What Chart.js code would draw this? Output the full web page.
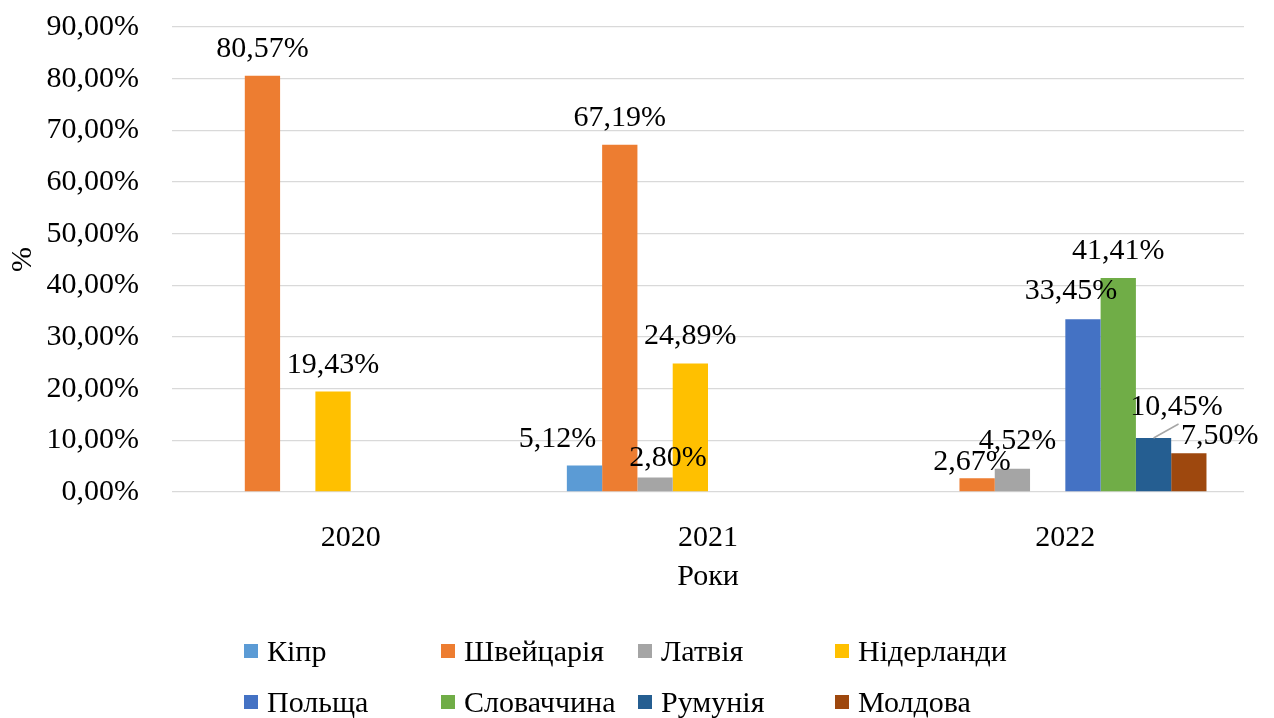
<!DOCTYPE html>
<html lang="uk">
  <head>
    <meta charset="utf-8">
    <title>Роки</title>
    <style>
      body { margin: 0; background: #fff; }
      #wrap { position: relative; width: 1274px; height: 718px; }
      #legend {
        position: absolute; left: 244px; top: 634px;
        display: grid; grid-template-columns: repeat(4, 197px);
        row-gap: 17px;
        font-family: "Liberation Serif", "Times New Roman", serif;
        font-size: 30px; color: #000;
      }
      .item { display: flex; align-items: center; height: 34px; white-space: nowrap; }
      .box { width: 14px; height: 14px; margin-right: 9px; flex: none; }
    </style>
  </head>

  <body>
    <div id="wrap">
      <canvas id="chart"></canvas>
      <div id="legend"></div>
    </div>

    <script src="https://cdn.jsdelivr.net/npm/chart.js@4/dist/chart.umd.min.js"></script>

    <script>
      // дані з діаграми (у відсотках)
      const years = ['2020', '2021', '2022'];
      const countries = ['Кіпр', 'Швейцарія', 'Латвія', 'Нідерланди', 'Польща', 'Словаччина', 'Румунія', 'Молдова'];
      const kipr        = [null, 5.12, null];
      const shveitsariia = [80.57, 67.19, 2.67];
      const latviia     = [null, 2.80, 4.52];
      const niderlandy  = [19.43, 24.89, null];
      const polshcha    = [null, null, 33.45];
      const slovachchyna = [null, null, 41.41];
      const rumuniia    = [null, null, 10.45];
      const moldova     = [null, null, 7.50];
      const yTicks = [0, 10, 20, 30, 40, 50, 60, 70, 80, 90];

      const colors = ['#5B9BD5', '#ED7D31', '#A5A5A5', '#FFC000', '#4472C4', '#70AD47', '#255E91', '#9E480E'];
      const series = [kipr, shveitsariia, latviia, niderlandy, polshcha, slovachchyna, rumuniia, moldova];

      // ручні зсуви підписів (набір, категорія) -> [dx, dy]
      const nudges = {
        '0,1': [-27, 0],
        '2,1': [13, 7],
        '1,2': [-5, 11],
        '2,2': [5, -1],
        '4,2': [-12, -1],
        '6,2': [23, -4],
        '7,2': [31, 10]
      };
      const leaders = { '6,2': true };

      const serif = '"Liberation Serif", "Times New Roman", serif';
      const fmt = v => v.toFixed(2).replace('.', ',') + '%';

      const barLabels = {
        id: 'barLabels',
        afterDatasetsDraw(chart) {
          const ctx = chart.ctx;
          ctx.save();
          ctx.font = '30px ' + serif;
          ctx.fillStyle = '#000';
          ctx.textAlign = 'center';
          ctx.textBaseline = 'alphabetic';
          chart.data.datasets.forEach((ds, i) => {
            chart.getDatasetMeta(i).data.forEach((bar, j) => {
              const v = ds.data[j];
              if (v == null) return;
              const key = i + ',' + j;
              const n = nudges[key] || [0, 0];
              if (leaders[key]) {
                ctx.strokeStyle = '#A6A6A6';
                ctx.lineWidth = 1.5;
                ctx.beginPath();
                ctx.moveTo(bar.x, bar.y);
                ctx.lineTo(bar.x + 25, bar.y - 14);
                ctx.stroke();
              }
              ctx.fillText(fmt(v), bar.x + n[0], bar.y - 19 + n[1]);
            });
          });
          ctx.restore();
        }
      };

      const ctx = document.getElementById('chart');
      const myChart = new Chart(ctx, {
        type: 'bar',
        data: {
          labels: years,
          datasets: series.map((d, i) => ({
            label: countries[i],
            data: d,
            backgroundColor: colors[i],
            categoryPercentage: 0.79,
            barPercentage: 1
          }))
        },
        options: {
          responsive: true,
          maintainAspectRatio: false,
          animation: false,
          layout: { padding: { left: 0, right: 30, top: 27, bottom: 123 } },
          plugins: { legend: { display: false }, tooltip: { enabled: false } },
          scales: {
            x: {
              grid: { display: false },
              border: { display: false },
              ticks: { color: '#000', font: { family: serif, size: 30 }, padding: 20 },
              title: { display: true, text: 'Роки', color: '#000', font: { family: serif, size: 30 }, padding: 0 },
              afterFit(scale) { scale.height = 103; }
            },
            y: {
              min: 0,
              max: 90,
              afterBuildTicks(scale) { scale.ticks = yTicks.map(v => ({ value: v })); },
              grid: { color: '#D9D9D9', lineWidth: 1.3, drawTicks: false },
              border: { display: false },
              ticks: { color: '#000', font: { family: serif, size: 30 }, padding: 33, callback: v => fmt(v) },
              title: { display: true, text: '%', color: '#000', font: { family: serif, size: 30 }, padding: { top: 5 } },
              afterFit(scale) {
                scale.width = 172;
                scale.paddingTop = 0;
                scale.paddingBottom = 0;
              }
            }
          }
        },
        plugins: [barLabels]
      });

      // легенда в дві строки
      const legend = document.getElementById('legend');
      countries.forEach((name, i) => {
        const item = document.createElement('div');
        item.className = 'item';
        const box = document.createElement('span');
        box.className = 'box';
        box.style.background = colors[i];
        item.appendChild(box);
        item.appendChild(document.createTextNode(name));
        legend.appendChild(item);
      });
    </script>
  </body>
</html>
